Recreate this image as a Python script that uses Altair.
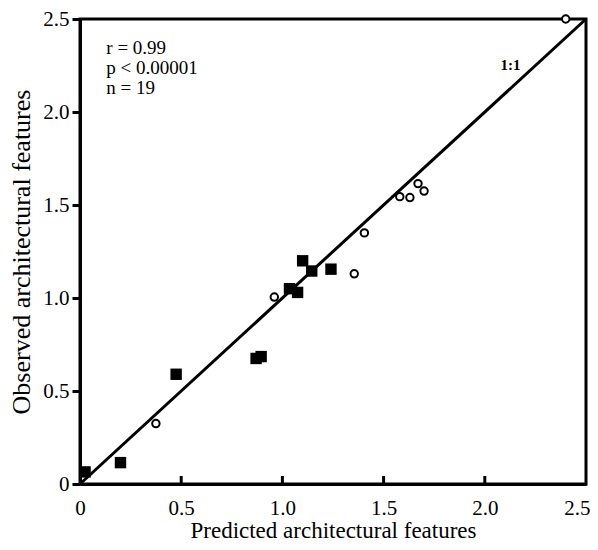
import altair as alt
import pandas as pd

# Filled squares
sq_x = [0.025, 0.20, 0.475, 0.87, 0.895, 1.035, 1.075, 1.10, 1.145, 1.24]
sq_y = [0.065, 0.115, 0.59, 0.675, 0.685, 1.05, 1.03, 1.20, 1.145, 1.155]
# Open circles
ci_x = [0.375, 0.96, 1.355, 1.405, 1.58, 1.63, 1.67, 1.70, 2.40]
ci_y = [0.325, 1.005, 1.13, 1.35, 1.545, 1.54, 1.615, 1.575, 2.50]

ticks = [0, 0.5, 1.0, 1.5, 2.0, 2.5]
stats_lines = ["r = 0.99", "p < 0.00001", "n = 19"]
line_label = "1:1"

FONT = "Liberation Serif"
W, H = 506, 465

sq = pd.DataFrame({"x": sq_x, "y": sq_y})
ci = pd.DataFrame({"x": ci_x, "y": ci_y})
one = pd.DataFrame({"x": [0, 2.5], "y": [0, 2.5]})
tk = pd.DataFrame({"t": ticks[1:-1]})

label_expr = "datum.value == 0 ? '0' : format(datum.value, '.1f')"

xs = alt.Scale(domain=[0, 2.5], nice=False, zero=False)
ys = alt.Scale(domain=[0, 2.5], nice=False, zero=False)

x_axis = alt.Axis(values=ticks, labelExpr=label_expr, ticks=False, grid=False,
                  labelFlush=False, labelOverlap=False,
                  labelAlign={"condition": {"test": "datum.value >= 2.5", "value": "right"},
                              "value": "center"},
                  labelOffset={"condition": {"test": "datum.value >= 2.5", "value": 4},
                               "value": 0},
                  title="Predicted architectural features", labelPadding=13,
                  titlePadding=1, titleFontSize=23)
y_axis = alt.Axis(values=ticks, labelExpr=label_expr, tickSize=8, tickWidth=3,
                  grid=False, labelFlush=False, labelOverlap=False,
                  title="Observed architectural features",
                  labelPadding=3, titlePadding=8, titleFontSize=26)

line = alt.Chart(one).mark_line(color="black", strokeWidth=3).encode(
    x=alt.X("x:Q", scale=xs, axis=x_axis),
    y=alt.Y("y:Q", scale=ys, axis=y_axis),
)

squares = alt.Chart(sq).mark_point(shape="square", filled=True, color="black",
                                   size=130, opacity=1).encode(
    x=alt.X("x:Q", scale=xs), y=alt.Y("y:Q", scale=ys))

circles = alt.Chart(ci).mark_point(shape="circle", filled=False, color="black",
                                   fill="white", fillOpacity=1, strokeWidth=2,
                                   size=55, opacity=1).encode(
    x=alt.X("x:Q", scale=xs), y=alt.Y("y:Q", scale=ys))

xticks = alt.Chart(tk).mark_rule(color="black", strokeWidth=3).encode(
    x=alt.X("t:Q", scale=xs), y=alt.value(H - 8), y2=alt.value(H))

stats = alt.Chart(pd.DataFrame({"x": [0.13], "y": [2.39]})).mark_text(
    text=stats_lines, align="left", baseline="top", font=FONT, fontSize=19,
    lineHeight=20, color="black").encode(
    x=alt.X("x:Q", scale=xs), y=alt.Y("y:Q", scale=ys))

lab = alt.Chart(pd.DataFrame({"x": [2.127], "y": [2.253]})).mark_text(
    text=line_label, align="center", baseline="middle", font=FONT, fontSize=15,
    fontWeight="bold", color="black").encode(
    x=alt.X("x:Q", scale=xs), y=alt.Y("y:Q", scale=ys))

chart = alt.layer(line, xticks, squares, circles, stats, lab).properties(
    width=W, height=H,
    autosize=alt.AutoSizeParams(type="none"),
    padding={"left": 72, "top": 11, "right": 4, "bottom": 58},
    background="white",
).configure_view(
    stroke="black", strokeWidth=3
).configure_axis(
    domainColor="black", domainWidth=3, tickColor="black",
    labelFont=FONT, labelFontSize=21, labelColor="black",
    titleFont=FONT, titleFontWeight="normal", titleColor="black",
)

chart.save("out.html", embed_options={"renderer": "svg", "actions": False})
